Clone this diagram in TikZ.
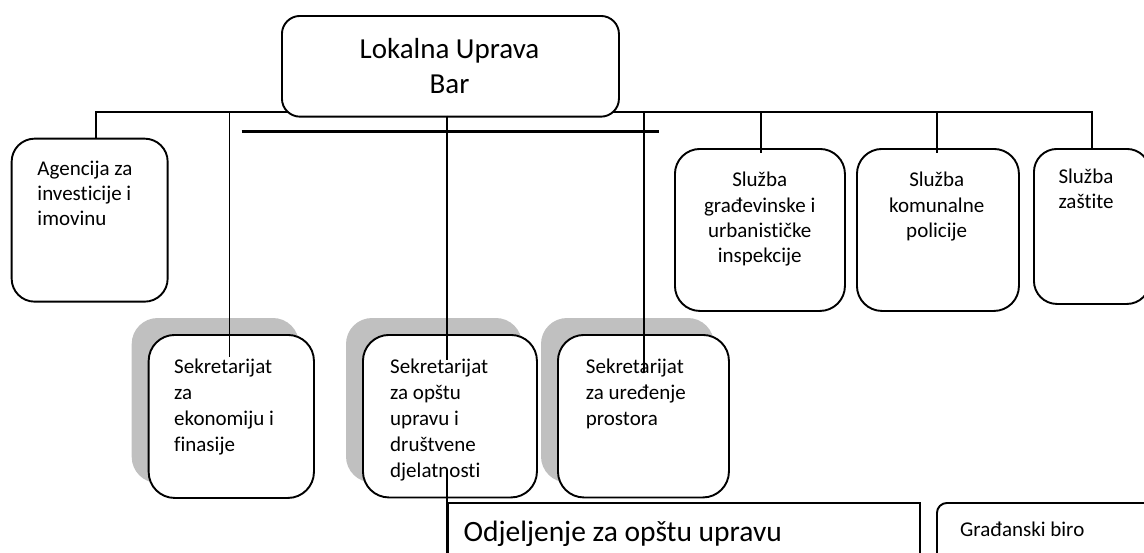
\documentclass[tikz,border=0pt]{standalone}
\usepackage{fontspec}
\setmainfont[Ligatures=NoCommon]{Carlito}
\definecolor{shd}{HTML}{C0C0C0}
\newcommand\fbody{\fontsize{21}{25.4}\selectfont}
\newcommand\fsek{\fontsize{21}{26}\selectfont}
\newcommand\fbig{\fontsize{29}{35}\selectfont}
\pgfdeclarelayer{bg}
\pgfsetlayers{bg,main}
\begin{document}
\begin{tikzpicture}[x=1pt,y=-1pt,
  box/.style={draw, line width=1.9pt, fill=white, inner sep=0pt, anchor=north west},
  conn/.style={line width=1.6pt},
  thick bar/.style={line width=2.6pt},
  lbl/.style={inner sep=0pt, anchor=base west},
  clbl/.style={inner sep=0pt, anchor=base},
  shadow/.style={fill=shd, rounded corners=26pt}]
\useasboundingbox (0,0) rectangle (1144,552);
\clip (0,0) rectangle (1144,552);

% boxes
\node[box, rounded corners=18pt, minimum width=337pt, minimum height=100.7pt] (top) at (281,15) {};
\node[box, rounded corners=23pt, minimum width=156pt, minimum height=163pt] (ag) at (10.7,137.7) {};
\node[box, rounded corners=26pt, minimum width=165.3pt, minimum height=163pt] (sek1) at (147.7,334) {};
\node[box, rounded corners=26pt, minimum width=174pt, minimum height=162.5pt] (sek2) at (362,334) {};
\node[box, rounded corners=26pt, minimum width=171pt, minimum height=162.5pt] (sek3) at (557,334) {};
\node[box, rounded corners=25pt, minimum width=170pt, minimum height=162pt] (sg) at (674,148) {};
\node[box, rounded corners=25pt, minimum width=162pt, minimum height=162pt] (sk) at (856,148) {};
\node[box, rounded corners=23pt, minimum width=116pt, minimum height=155pt] (sz) at (1033,148) {};
\node[box, minimum width=472.3pt, minimum height=80pt] (odj) at (446.7,502.3) {};
\node[box, rounded corners=10pt, minimum width=230pt, minimum height=80pt] (gb) at (936,502) {};

% shadows and bus (behind)
\begin{pgfonlayer}{bg}
  \foreach \s in {sek1,sek2,sek3}
    \fill[shadow] ([shift={(-16,-16)}]\s.north west) rectangle ([shift={(-16,-16)}]\s.south east);
  \coordinate (busL) at (95.7,111.7);
  \coordinate (busR) at (1092,111.7);
  \draw[conn] (busL |- ag.north) -- (busL) -- (busR) -- ([yshift=-5pt]busR |- sz.north);
\end{pgfonlayer}

% connectors
\coordinate (b1) at (229.3,111.7);
\coordinate (e1) at (229.3,357);
\coordinate (b2) at (446.7,115.7);
\coordinate (e2) at (446.7,360);
\coordinate (b3) at (644,111.7);
\coordinate (e3) at (644,372);
\coordinate (bg1) at (761,111.7);
\coordinate (bk1) at (937,111.7);
\coordinate (d2) at (446.7,470);
\coordinate (tbL) at (241.7,131.7);
\coordinate (tbR) at (659,131.7);
\draw[conn] (b1) -- (e1);
\draw[conn] (b2) -- (e2);
\draw[conn] (b3) -- (e3);
\draw[conn] (bg1) -- ([yshift=-5pt]bg1 |- sg.north);
\draw[conn] (bk1) -- ([yshift=-5pt]bk1 |- sk.north);
\draw[conn] (d2) -- (odj.north west) -- (odj.south west);
\draw[thick bar] (tbL) -- (tbR);

% texts
\node[clbl, font=\fbig] (ttop) at (449.5,58.3) {\parbox[t]{320pt}{\centering Lokalna Uprava\\Bar}};
\node[lbl, font=\fbody] (tag) at (37.3,175) {\parbox[t]{125pt}{\raggedright Agencija za\\investicije i\\imovinu}};
\node[lbl, font=\fsek] (ts1) at (174,373) {\parbox[t]{135pt}{\raggedright Sekretarijat\\za\\ekonomiju i\\finasije}};
\node[lbl, font=\fsek] (ts2) at (390,373) {\parbox[t]{140pt}{\raggedright Sekretarijat\\za opštu\\upravu i\\društvene\\djelatnosti}};
\node[lbl, font=\fsek] (ts3) at (585.7,373) {\parbox[t]{140pt}{\raggedright Sekretarijat\\za uređenje\\prostora}};
\node[clbl, font=\fbody] (tsg) at (759.7,186.7) {\parbox[t]{160pt}{\centering Služba\\građevinske i\\urbanističke\\inspekcije}};
\node[clbl, font=\fbody] (tsk) at (936.7,186.7) {\parbox[t]{150pt}{\centering Služba\\komunalne\\policije}};
\node[lbl, font=\fbody] (tsz) at (1058.3,183.3) {\parbox[t]{85pt}{\raggedright Služba\\zaštite}};
\node[lbl, font=\fontsize{29.5}{35}\selectfont] (todj) at (463.3,541.7) {Odjeljenje za opštu upravu};
\node[lbl, font=\fbody] (tgb) at (960,536.7) {Građanski biro};
\end{tikzpicture}
\end{document}
